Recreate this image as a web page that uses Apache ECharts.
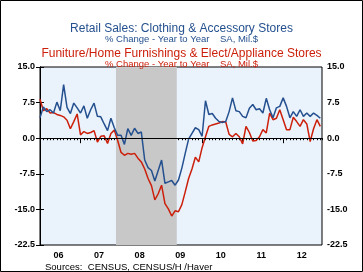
<!DOCTYPE html>
<html><head><meta charset="utf-8">
<script src="https://cdn.jsdelivr.net/npm/echarts@6/dist/echarts.min.js"></script>
<style>html,body{margin:0;padding:0;background:#fff}#c{width:363px;height:272px}</style>
</head><body><div id="c"></div>
<script>
// Monthly, Jan 2006 .. Dec 2012
const yearLabels = ['06','07','08','09','10','11','12'];
const clothing = [
 4.3, 6.6, 5.6, 6.0, 5.3, 7.6, 5.8, 11.3, 6.5, 5.2, 7.4, 6.4,
 5.3, 6.8, 4.2, 6.0, 7.4, 4.6, 4.5, 3.0, 1.6, 4.2, 2.2, 0.6,
 0.6, -1.3, 2.0, 0.6, 2.1, 1.0, 1.3, -4.6, -6.2, -6.8, -9.0, -6.8,
 -4.6, -9.5, -9.2, -8.9, -9.9, -8.8, -6.3, -3.2, -0.2, 1.0, 2.2, 1.8,
 0.4, 7.9, 5.0, 5.2, 4.2, 3.5, 3.3, 3.5, 5.6, 8.5, 5.8, 5.6,
 4.6, 4.3, 6.3, 7.1, 6.0, 6.2, 5.3, 8.4, 6.0, 4.3, 6.4, 6.7,
 8.5, 6.7, 4.3, 5.6, 4.6, 6.0, 4.6, 5.3, 4.6, 5.3, 4.8, 4.2
];
const furniture = [
 8.2, 5.8, 6.2, 5.3, 5.4, 5.0, 4.8, 4.5, 3.8, 2.0, 3.5, 5.1,
 0.7, 1.4, 1.0, 1.2, 1.6, -0.8, 0.4, 0.5, -1.1, 1.0, 1.7, -0.5,
 -3.0, -3.6, -3.2, -3.4, -3.2, -4.2, -5.0, -6.5, -8.5, -10.0, -13.0, -11.7,
 -9.9, -13.8, -14.9, -16.4, -15.3, -15.5, -14.0, -11.3, -8.5, -6.5, -4.0, -5.0,
 -2.0, 0.3, 2.5, 2.8, 3.0, 3.2, 3.5, 3.4, 0.8, 0.3, 1.0, 0.3,
 -1.2, 2.5, 1.2, -0.6, -0.5, 0.3, 1.8, 1.1, 5.3, 3.9, 4.2, 6.0,
 3.9, 1.8, 1.8, 4.4, 3.5, 2.5, 3.9, 3.0, -0.7, 2.0, 3.9, 2.5
];
const yTicks = [-22.5, -15.0, -7.5, 0.0, 7.5, 15.0];
const recession = [22.5, 40.5]; // Dec 2007 .. Jun 2009

const BLUE = '#24508f', RED = '#cc1f0a';
const FONT = 'Liberation Sans, Arial';
const toPairs = arr => arr.map((v, i) => [i, v]);
const yearTicks = yearLabels.map((_, i) => i * 12);
const yearMid = yearLabels.map((_, i) => i * 12 + 5.5);

const chart = echarts.init(document.getElementById('c'), null, {renderer: 'canvas'});
const yAxisCommon = {
  type: 'value', min: yTicks[0], max: yTicks[yTicks.length - 1], interval: 7.5,
  axisLine: {show: true, lineStyle: {color: '#000', width: 1}},
  axisTick: {show: true, length: 4, inside: false, lineStyle: {color: '#000'}},
  splitLine: {show: false},
  axisLabel: {fontSize: 9, fontWeight: 'bold', color: '#000', fontFamily: FONT, margin: 5,
    formatter: v => v.toFixed(1)}
};
chart.setOption({
  animation: false,
  backgroundColor: '#fff',
  title: [
    {text: 'Retail Sales: Clothing & Accessory Stores', left: 'center', top: 18,
     textStyle: {fontSize: 12, fontWeight: 'normal', color: BLUE, fontFamily: FONT}},
    {text: '% Change - Year to Year    SA, Mil.$', left: 'center', top: 29,
     textStyle: {fontSize: 9.5, fontWeight: 'normal', color: BLUE, fontFamily: FONT}},
    {text: 'Funiture/Home Furnishings & Elect/Appliance Stores', left: 'center', top: 43,
     textStyle: {fontSize: 12, fontWeight: 'normal', color: RED, fontFamily: FONT}},
    {text: '% Change - Year to Year    SA, Mil.$', left: 'center', top: 54,
     textStyle: {fontSize: 9.5, fontWeight: 'normal', color: RED, fontFamily: FONT}},
    {text: 'Sources:  CENSUS, CENSUS/H /Haver', left: 40, top: 257,
     textStyle: {fontSize: 9.5, fontWeight: 'normal', color: '#000', fontFamily: FONT}}
  ],
  graphic: [{type: 'rect', shape: {x: 0.5, y: 0.5, width: 362, height: 271},
    style: {fill: 'none', stroke: '#000', lineWidth: 1}, z: 100}],
  grid: {left: 40, top: 67, width: 282, height: 178, show: true,
    backgroundColor: '#eaf2fc', borderColor: '#000', borderWidth: 1},
  xAxis: [
    {type: 'value', min: 0, max: 83.5,
     axisLine: {show: true, lineStyle: {color: '#000'}},
     axisTick: {show: true, customValues: yearTicks, length: 5, lineStyle: {color: '#000'}},
     axisLabel: {customValues: yearMid, fontSize: 9, fontWeight: 'bold', color: '#000', margin: 6,
       fontFamily: FONT, formatter: v => yearLabels[Math.floor(v / 12)] || ''},
     splitLine: {show: false}},
    {type: 'value', min: 0, max: 83.5, interval: 1, position: 'bottom',
     axisLine: {show: false},
     axisTick: {show: true, length: 2, lineStyle: {color: '#000'}},
     axisLabel: {show: false}, splitLine: {show: false}}
  ],
  yAxis: [
    Object.assign({position: 'left'}, yAxisCommon),
    Object.assign({position: 'right'}, yAxisCommon)
  ],
  series: [
    {type: 'line', name: 'Furniture', data: toPairs(furniture), showSymbol: false, symbol: 'none',
     lineStyle: {color: RED, width: 1.5}, z: 3,
     markArea: {silent: true, itemStyle: {color: '#c8c8c8'}, data: [[{xAxis: recession[0]}, {xAxis: recession[1]}]]},
     markLine: {silent: true, symbol: 'none', label: {show: false},
       lineStyle: {color: '#000', width: 1, type: 'solid'}, data: [{yAxis: 0}]}},
    {type: 'line', name: 'Clothing', data: toPairs(clothing), showSymbol: false, symbol: 'none',
     lineStyle: {color: BLUE, width: 1.5}, z: 4}
  ]
});
</script></body></html>
